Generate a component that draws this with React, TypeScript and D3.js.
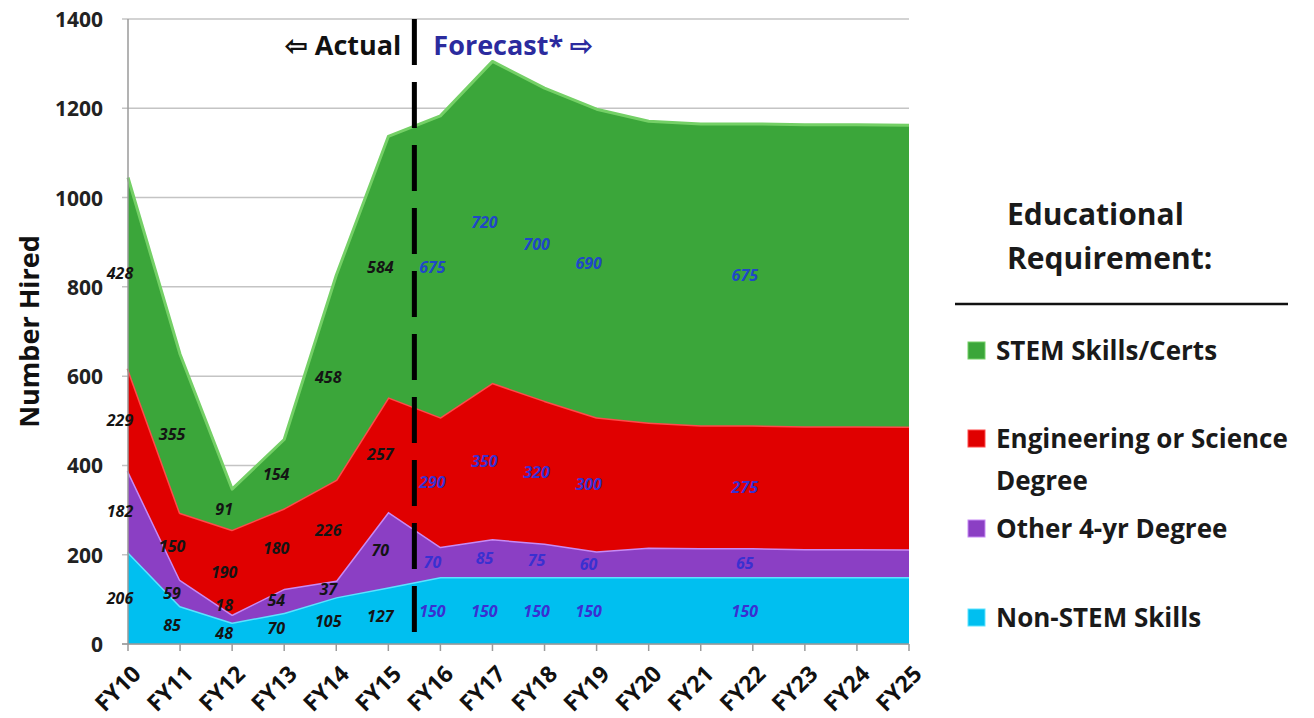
import * as d3 from 'd3'

const categories = ['FY10', 'FY11', 'FY12', 'FY13', 'FY14', 'FY15', 'FY16', 'FY17', 'FY18', 'FY19', 'FY20', 'FY21', 'FY22', 'FY23', 'FY24', 'FY25']

// series values (bottom to top of the stack)
const nonStem = [206, 85, 48, 70, 105, 127, 150, 150, 150, 150, 150, 150, 150, 150, 150, 150]
const other4yr = [182, 59, 18, 54, 37, 169, 68, 85, 75, 58, 66, 65, 65, 63, 63, 62]
const engSci = [229, 150, 190, 180, 226, 257, 290, 350, 320, 300, 280, 275, 275, 275, 275, 275]
const stemSkills = [428, 355, 91, 154, 458, 584, 675, 720, 700, 690, 675, 675, 675, 675, 675, 675]

// data label text as printed on the chart (null = no label)
const nonStemLabels = ['206', '85', '48', '70', '105', '127', '150', '150', '150', '150', null, null, '150', null, null, null]
const other4yrLabels = ['182', '59', '18', '54', '37', '70', '70', '85', '75', '60', null, null, '65', null, null, null]
const engSciLabels = ['229', '150', '190', '180', '226', '257', '290', '350', '320', '300', null, null, '275', null, null, null]
const stemLabels = ['428', '355', '91', '154', '458', '584', '675', '720', '700', '690', null, null, '675', null, null, null]

const yTicks = [0, 200, 400, 600, 800, 1000, 1200, 1400]

const seriesKeys = ['nonStem', 'other4yr', 'engSci', 'stem']
const seriesNames = ['Non-STEM Skills', 'Other 4-yr Degree', 'Engineering or Science Degree', 'STEM Skills/Certs']
const fills = ['#00bff0', '#8b3fc4', '#e00000', '#3ba63a']
const edges = ['#5de3ff', '#c78af5', '#ff4a4a', '#74d066']
const forecastStart = 6

const W = 1314
const H = 718
const margin = { top: 19, right: 405, bottom: 74, left: 128 }
const font = "'Open Sans', 'Liberation Sans', sans-serif"

const App = () => {
	const rows = categories.map((c, i) => ({
		cat: c,
		nonStem: nonStem[i],
		other4yr: other4yr[i],
		engSci: engSci[i],
		stem: stemSkills[i],
	}))
	const labels = [nonStemLabels, other4yrLabels, engSciLabels, stemLabels]

	const x = d3.scalePoint<string>().domain(categories).range([margin.left, W - margin.right])
	const y = d3.scaleLinear().domain([0, 1400]).range([H - margin.bottom, margin.top])

	const stacked = d3.stack<any>().keys(seriesKeys)(rows)

	const area = d3
		.area<any>()
		.x((d) => x(d.data.cat)!)
		.y0((d) => y(d[0]))
		.y1((d) => y(d[1]))
	const topLine = d3
		.line<any>()
		.x((d) => x(d.data.cat)!)
		.y((d) => y(d[1]))

	const x0 = margin.left
	const x1 = W - margin.right
	const yBase = y(0)
	const dividerX = (x(categories[forecastStart - 1])! + x(categories[forecastStart])!) / 2

	// label y: middle of each band, pushed up if it would sit on the label below
	const labelY: number[][] = stacked.map(() => [])
	categories.forEach((_, j) => {
		let prev = Infinity
		stacked.forEach((s, i) => {
			const mid = y((s[j][0] + s[j][1]) / 2)
			const ly = Math.min(mid, prev - 28)
			labelY[i][j] = ly
			if (labels[i][j]) prev = ly
		})
	})

	return (
		<div style={{ position: 'absolute', left: 0, top: 0 }}>
			<svg width={W} height={H} style={{ display: 'block', background: '#fff' }}>
				{/* gridlines */}
				{yTicks.map((t) => (
					<line key={t} x1={x0 - 6} x2={x1} y1={y(t)} y2={y(t)} stroke='#c4c4c4' strokeWidth={1.5} />
				))}
				{yTicks.map((t) => (
					<text
						key={'l' + t}
						x={103}
						y={y(t)}
						textAnchor='end'
						dominantBaseline='central'
						fontFamily={font}
						fontWeight={700}
						fontSize={21}
						fill='#222'
					>
						{t}
					</text>
				))}

				{/* stacked areas */}
				{stacked.map((s, i) => (
					<g key={s.key}>
						<path d={area(s) ?? ''} fill={fills[i]} />
						<path d={topLine(s) ?? ''} fill='none' stroke={edges[i]} strokeWidth={3} strokeLinejoin='round' />
					</g>
				))}

				{/* axes */}
				<line x1={x0} x2={x0} y1={margin.top} y2={yBase} stroke='#9a9a9a' strokeWidth={1.5} />
				<line x1={x0 - 6} x2={x1} y1={yBase} y2={yBase} stroke='#9a9a9a' strokeWidth={1.5} />
				{categories.map((c) => (
					<line key={'t' + c} x1={x(c)} x2={x(c)} y1={yBase} y2={yBase + 7} stroke='#9a9a9a' strokeWidth={1.5} />
				))}
				{categories.map((c) => (
					<text
						key={'x' + c}
						transform={`translate(${x(c)! + 8},${yBase + 25}) rotate(-45)`}
						textAnchor='end'
						dominantBaseline='central'
						fontFamily={font}
						fontWeight={700}
						fontSize={23}
						fill='#111'
					>
						{c}
					</text>
				))}

				{/* data labels */}
				{stacked.map((s, i) =>
					s.map((d, j) =>
						labels[i][j] ? (
							<text
								key={s.key + j}
								x={x(categories[j])! - 8}
								y={labelY[i][j]}
								textAnchor='middle'
								dominantBaseline='central'
								fontFamily={font}
								fontWeight={700}
								fontStyle='italic'
								fontSize={16}
								fill={j < forecastStart ? '#141414' : i === 3 ? '#1f47c8' : '#3a30d0'}
							>
								{labels[i][j]}
							</text>
						) : null,
					),
				)}

				{/* actual / forecast divider */}
				<line
					x1={dividerX}
					x2={dividerX}
					y1={margin.top}
					y2={yBase}
					stroke='#000'
					strokeWidth={5}
					strokeDasharray='46,17'
				/>
				<text
					x={dividerX - 13}
					y={44}
					textAnchor='end'
					dominantBaseline='central'
					fontFamily={font}
					fontWeight={700}
					fontSize={27}
					fill='#111'
				>
					⇦ Actual
				</text>
				<text
					x={dividerX + 19}
					y={44}
					textAnchor='start'
					dominantBaseline='central'
					fontFamily={font}
					fontWeight={700}
					fontSize={27}
					fill='#2b2b9e'
				>
					Forecast* ⇨
				</text>

				{/* y title */}
				<text
					transform={`translate(28,${(margin.top + yBase) / 2}) rotate(-90)`}
					textAnchor='middle'
					dominantBaseline='central'
					fontFamily={font}
					fontWeight={700}
					fontSize={27}
					fill='#111'
				>
					Number Hired
				</text>

				{/* legend */}
				<g fontFamily={font} fontWeight={700} fill='#1a1a1a'>
					<text x={1007} y={213} dominantBaseline='central' fontSize={30}>
						Educational
					</text>
					<text x={1007} y={257} dominantBaseline='central' fontSize={30}>
						Requirement:
					</text>
					<line x1={955} x2={1288} y1={304} y2={304} stroke='#111' strokeWidth={2.5} />
					{[3, 2, 1, 0].map((si, k) => {
						const ly = [350, 438, 528, 617][k]
						const name = seriesNames[si]
						const lines = si === 2 ? ['Engineering or Science', 'Degree'] : [name]
						return (
							<g key={name}>
								<rect x={968} y={ly - 8} width={17} height={17} fill={fills[si]} stroke={edges[si]} strokeWidth={1} />
								{lines.map((ln, li) => (
									<text key={ln} x={996} y={ly + li * 42} dominantBaseline='central' fontSize={26}>
										{ln}
									</text>
								))}
							</g>
						)
					})}
				</g>
			</svg>
		</div>
	)
}

export default App
